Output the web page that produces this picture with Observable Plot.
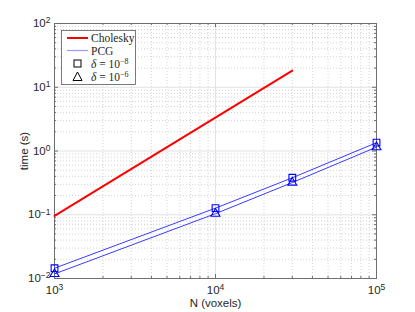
<!DOCTYPE html>
<html>
<head>
<meta charset="utf-8">
<script src="https://cdn.jsdelivr.net/npm/d3@7"></script>
<script src="https://cdn.jsdelivr.net/npm/@observablehq/plot@0.6"></script>
<style>
  html, body { margin: 0; padding: 0; background: #fff; }
  #chart svg { display: block; }
</style>
</head>
<body>
<div id="chart"></div>
<script>
// ---- data ----
const xTicks = [1e3, 1e4, 1e5];
const yTicks = [1e-2, 1e-1, 1e0, 1e1, 1e2];
const cholN = [1000, 30000];
const cholT = [0.096, 18.2];
const pcgN = [1000, 10000, 30000, 100000];
const pcgT8 = [0.0145, 0.127, 0.38, 1.35];   // delta = 1e-8 (squares)
const pcgT6 = [0.0118, 0.104, 0.32, 1.15];   // delta = 1e-6 (triangles)
const legendLabels = ["Cholesky", "PCG", "-8", "-6"];

const chol = cholN.map((n, i) => ({n, t: cholT[i]}));
const p8 = pcgN.map((n, i) => ({n, t: pcgT8[i]}));
const p6 = pcgN.map((n, i) => ({n, t: pcgT6[i]}));

function minors(decs) {
  const out = [];
  for (let i = 0; i < decs.length - 1; i++) for (let k = 2; k <= 9; k++) out.push(decs[i] * k);
  return out;
}
const xMinor = minors(xTicks);
const yMinor = minors(yTicks);

const W = 415, H = 312, mL = 54, mR = 39, mT = 23, mB = 34;
const pw = W - mL - mR, ph = H - mT - mB;
const frameCol = "#6e6e6e";
const blue = "#3a3aff";

const plot = Plot.plot({
  width: W, height: H,
  marginLeft: mL, marginRight: mR, marginTop: mT, marginBottom: mB,
  style: {fontFamily: "'Liberation Sans', Arial, sans-serif", fontSize: "11.5px", background: "#fff", color: "#262626"},
  x: {type: "log", domain: [1e3, 1e5]},
  y: {type: "log", domain: [1e-2, 1e2]},
  marks: [
    // grid
    Plot.ruleX(xMinor, {x: d => d, stroke: "#c8c8c8", strokeDasharray: "1,2", strokeWidth: 0.8}),
    Plot.ruleY(yMinor, {y: d => d, stroke: "#c8c8c8", strokeDasharray: "1,2", strokeWidth: 0.8}),
    Plot.ruleX(xTicks, {x: d => d, stroke: "#e2e2e2", strokeWidth: 1}),
    Plot.ruleY(yTicks, {y: d => d, stroke: "#e2e2e2", strokeWidth: 1}),
    // inward ticks, all four sides
    Plot.tickX(xTicks, {x: d => d, insetTop: ph - 4, stroke: frameCol}),
    Plot.tickX(xTicks, {x: d => d, insetBottom: ph - 4, stroke: frameCol}),
    Plot.tickX(xMinor, {x: d => d, insetTop: ph - 2, stroke: frameCol}),
    Plot.tickX(xMinor, {x: d => d, insetBottom: ph - 2, stroke: frameCol}),
    Plot.tickY(yTicks, {y: d => d, insetRight: pw - 4, stroke: frameCol}),
    Plot.tickY(yTicks, {y: d => d, insetLeft: pw - 4, stroke: frameCol}),
    Plot.tickY(yMinor, {y: d => d, insetRight: pw - 2, stroke: frameCol}),
    Plot.tickY(yMinor, {y: d => d, insetLeft: pw - 2, stroke: frameCol}),
    Plot.frame({stroke: frameCol}),
    // data
    Plot.line(chol, {x: "n", y: "t", stroke: "#ff0000", strokeWidth: 2}),
    Plot.line(p8, {x: "n", y: "t", stroke: blue, strokeWidth: 1}),
    Plot.line(p6, {x: "n", y: "t", stroke: blue, strokeWidth: 1}),
    Plot.dot(p8, {x: "n", y: "t", symbol: "square", r: 3.8, stroke: "#0000ff", strokeWidth: 1.1, fill: "none"}),
    Plot.dot(p6, {x: "n", y: "t", symbol: "triangle", r: 3.3, stroke: "#0000ff", strokeWidth: 1.1, fill: "none"}),
    // axes
    Plot.axisX({ticks: xTicks, tickSize: 0, tickPadding: 7, tickFormat: d => "10^" + Math.round(Math.log10(d)),
      label: "N (voxels)", labelAnchor: "center", labelOffset: 28, labelArrow: "none"}),
    Plot.axisY({ticks: yTicks, tickSize: 0, tickPadding: 4, tickFormat: d => "10^" + Math.round(Math.log10(d)),
      label: "time (s)", labelAnchor: "center", labelOffset: 35, labelArrow: "none"})
  ]
});

document.getElementById("chart").appendChild(plot);
const svg = d3.select(plot);

// superscript tick labels
svg.selectAll("g[aria-label$='tick label'] text").each(function () {
  const s = this.textContent;
  if (!s.startsWith("10^")) return;
  const e = s.slice(3).replace("-", "\u2212");
  const t = d3.select(this);
  t.text(null);
  t.append("tspan").text("10");
  t.append("tspan").attr("dy", "-0.45em").attr("font-size", "8.5px").text(e);
});

// legend
const lg = svg.append("g").attr("font-family", "'Liberation Serif', 'Times New Roman', serif").attr("font-size", "11.5px").attr("fill", "#262626").attr("text-anchor", "start");
lg.append("rect").attr("x", 61.5).attr("y", 30.5).attr("width", 74).attr("height", 54).attr("fill", "#fff").attr("stroke", "#5a5a5a").attr("stroke-width", 0.8);
const rows = [38, 50.5, 63.5, 77];
lg.append("line").attr("x1", 67).attr("x2", 88).attr("y1", rows[0]).attr("y2", rows[0]).attr("stroke", "#ff0000").attr("stroke-width", 2);
lg.append("line").attr("x1", 67).attr("x2", 88).attr("y1", rows[1]).attr("y2", rows[1]).attr("stroke", "#9a9aff").attr("stroke-width", 1.2);
lg.append("rect").attr("x", 74).attr("y", rows[2] - 3.5).attr("width", 7).attr("height", 7).attr("fill", "none").attr("stroke", "#000").attr("stroke-width", 1);
lg.append("path").attr("d", `M77.5,${rows[3] - 5}L82,${rows[3] + 3.5}L73,${rows[3] + 3.5}Z`).attr("fill", "none").attr("stroke", "#000").attr("stroke-width", 1);
lg.append("text").attr("x", 91).attr("y", rows[0]).attr("dy", "0.35em").text(legendLabels[0]);
lg.append("text").attr("x", 91).attr("y", rows[1]).attr("dy", "0.35em").text(legendLabels[1]);
[2, 3].forEach(i => {
  const t = lg.append("text").attr("x", 91).attr("y", rows[i]).attr("dy", "0.35em");
  t.append("tspan").attr("font-style", "italic").text("\u03b4");
  t.append("tspan").text(" = 10");
  t.append("tspan").attr("dy", "-0.45em").attr("font-size", "8px").text(legendLabels[i].replace("-", "\u2212"));
});
</script>
</body>
</html>
